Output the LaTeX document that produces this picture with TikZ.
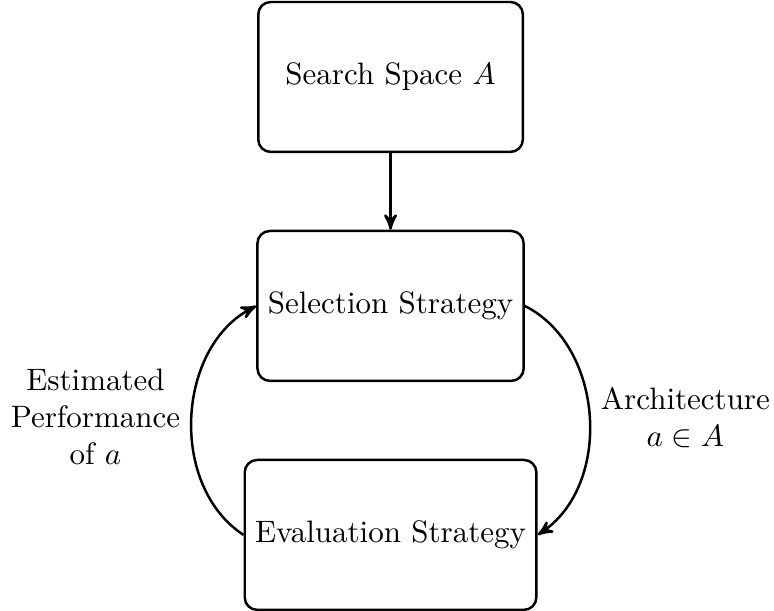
\documentclass[tikz,border=0pt]{standalone}
\usepackage{amssymb}
\usetikzlibrary{matrix,arrows}

\begin{document}
\begin{tikzpicture}[>=stealth', thick]
  \useasboundingbox (-126pt,-98.4pt) rectangle (123.7pt,98.7pt);
  \matrix (m) [matrix of nodes, row sep=24.7pt,
    nodes={draw, rounded corners, minimum width=3cm, minimum height=1.7cm}]
  {
Search Space $A$ \\
Selection Strategy \\
Evaluation Strategy \\
};
  \path[->]
  (m-1-1) edge (m-2-1)
  (m-2-1.east) edge [bend left=60] node [right, align=center] {Architecture\\$a \in A$} (m-3-1.east)
  (m-3-1.west) edge [bend left=60] node [left, align=center] {Estimated\\Performance\\of $a$} (m-2-1.west)
  ;
\end{tikzpicture}
\end{document}
